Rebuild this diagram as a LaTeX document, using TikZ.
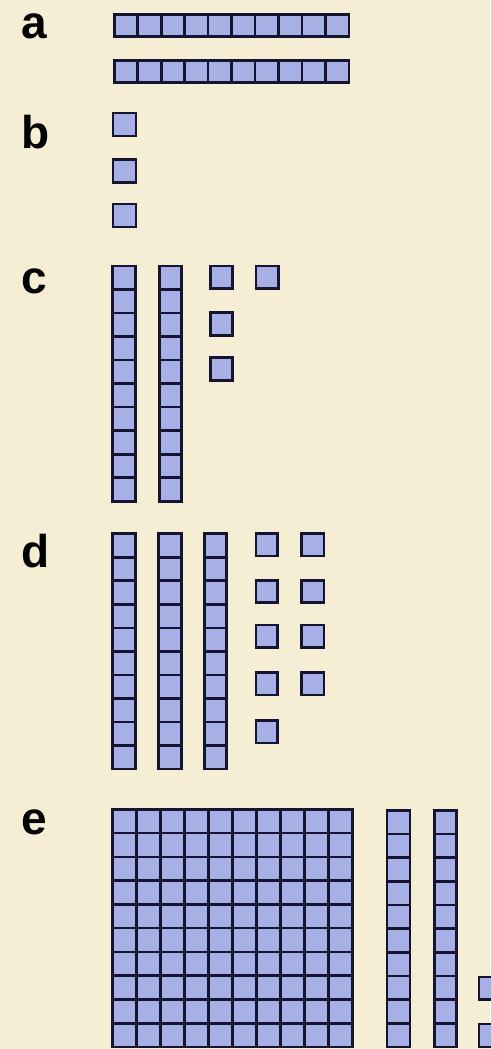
\documentclass[tikz,border=0pt]{standalone}
\usepackage{fontspec}
\setmainfont{Liberation Sans}
\definecolor{bg}{RGB}{246,238,212}
\definecolor{cellfill}{RGB}{166,176,228}
\definecolor{cellline}{RGB}{20,20,48}
\newcommand\blocks[6]{%
  \filldraw[blk] (#1,#2) rectangle (#3,#4);
  \ifnum#5>1 \foreach \k in {2,...,#5}{\draw[blk] ({#1+(\k-1)*(#3-#1)/#5},#2) -- ({#1+(\k-1)*(#3-#1)/#5},#4);}\fi
  \ifnum#6>1 \foreach \k in {2,...,#6}{\draw[blk] (#1,{#2+(\k-1)*(#4-#2)/#6}) -- (#3,{#2+(\k-1)*(#4-#2)/#6});}\fi
}
\tikzset{
  blk/.style={draw=cellline, fill=cellfill, line width=2.6pt},
  lab/.style={inner sep=0pt, anchor=base west, font=\bfseries\fontsize{46}{46}\selectfont, text=black}
}
\begin{document}
\begin{tikzpicture}[x=1pt,y=-1pt]
\fill[bg] (0,0) rectangle (490,1049);
\useasboundingbox (0,0) rectangle (490,1049);
% labels
\node[lab] (la) at (21,38) {a};
\node[lab] (lb) at (21,148) {b};
\node[lab] (lc) at (21,293) {c};
\node[lab] (ld) at (21,567) {d};
\node[lab] (le) at (21,834) {e};
% a
\blocks{114.3}{14.3}{349}{36.3}{10}{1}
\blocks{114.3}{60.3}{349}{82.3}{10}{1}
% b
\blocks{113}{113}{136}{136}{1}{1}
\blocks{113}{159.5}{136}{182.5}{1}{1}
\blocks{113}{204}{136}{227}{1}{1}
% c
\blocks{112.7}{266}{135.7}{501.3}{1}{10}
\blocks{159.3}{266}{181.7}{501.3}{1}{10}
\blocks{210.3}{266}{232.3}{288.3}{1}{1}
\blocks{210.3}{312.7}{232.3}{335.7}{1}{1}
\blocks{210.3}{357.7}{232.3}{380.7}{1}{1}
\blocks{256}{266}{278.3}{288.3}{1}{1}
% d
\blocks{112.7}{533.7}{135.7}{769}{1}{10}
\blocks{158.7}{533.7}{181.3}{769}{1}{10}
\blocks{204.3}{533.7}{226.7}{769}{1}{10}
\foreach \yy in {533.7,580.3,625,672.7}{
  \blocks{256}{\yy}{277.3}{\yy+22.3}{1}{1}
  \blocks{301.7}{\yy}{324}{\yy+22.3}{1}{1}
}
\blocks{256}{720.3}{277.3}{743}{1}{1}
% e
\blocks{112.7}{809.3}{352.3}{1047}{10}{10}
\blocks{387}{810.3}{410}{1047}{1}{10}
\blocks{434.3}{810.3}{456.7}{1047}{1}{10}
\blocks{479}{977}{502}{999.7}{1}{1}
\blocks{479}{1024}{502}{1047}{1}{1}
\end{tikzpicture}
\end{document}
